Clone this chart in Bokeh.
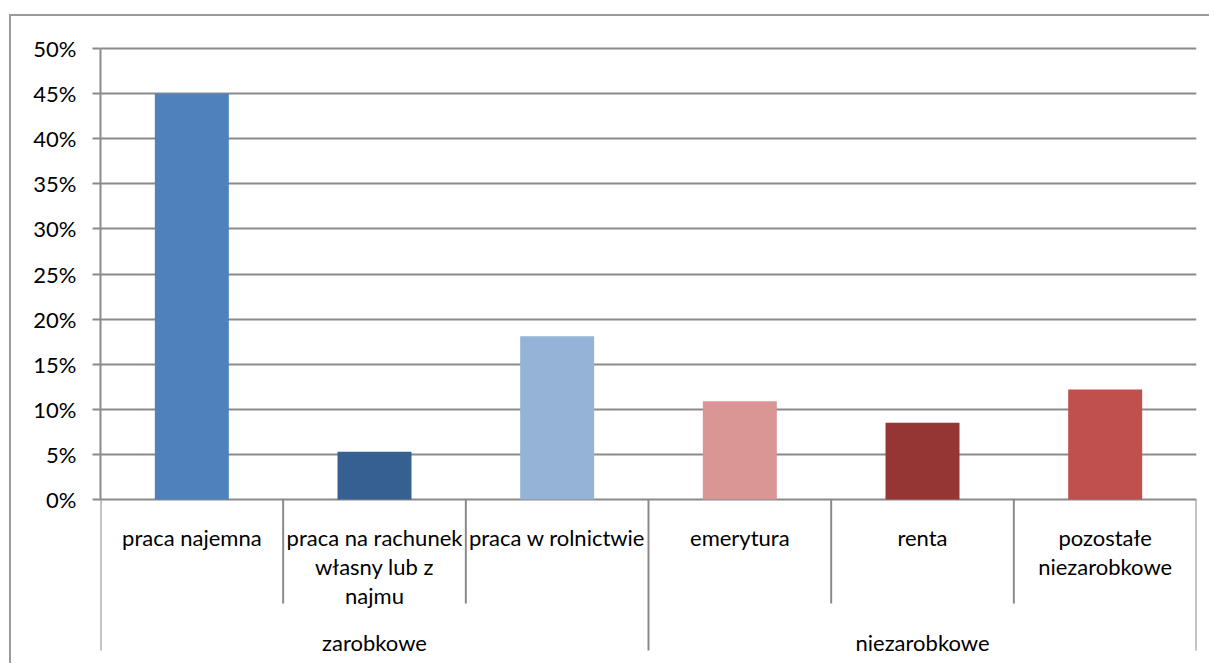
from bokeh.plotting import figure
from bokeh.models import ColumnDataSource, Range1d, FixedTicker, PrintfTickFormatter
from bokeh.core.properties import value
from bokeh.embed import file_html
from bokeh.resources import INLINE

# ---- data ----
categories = ["praca najemna", "praca na rachunek\nwłasny lub z\nnajmu", "praca w rolnictwie",
              "emerytura", "renta", "pozostałe\nniezarobkowe"]
groups = ["zarobkowe", "niezarobkowe"]
group_sizes = [3, 3]
values = [45.0, 5.3, 18.1, 10.9, 8.5, 12.2]
colors = ["#4F81BD", "#376092", "#95B3D7", "#DA9694", "#963634", "#C0504D"]
y_ticks = [0, 5, 10, 15, 20, 25, 30, 35, 40, 45, 50]

FONT = "Lato"
GRID = "#8a8a8a"

n = len(categories)
px_per_unit = 9.02
y_start = -(166 / px_per_unit)
y_end = 50 + 8 / px_per_unit

p = figure(width=1200, height=649, output_backend="svg", toolbar_location=None,
           x_range=Range1d(0, n), y_range=Range1d(y_start, y_end),
           x_axis_type=None, min_border_left=89, min_border_right=15,
           min_border_top=24, min_border_bottom=0, tools="")
p.margin = (14, 0, 0, 9)
p.outline_line_color = None
p.background_fill_color = "white"
p.styles = {"border-left": "2px solid #9a9a9a", "border-top": "2px solid #9a9a9a"}

# y axis
ax = p.yaxis[0]
ax.ticker = FixedTicker(ticks=y_ticks)
ax.formatter = PrintfTickFormatter(format="%d%%")
ax.bounds = (0, max(y_ticks))
ax.axis_line_color = GRID
ax.axis_line_width = 2
ax.major_tick_line_color = GRID
ax.major_tick_line_width = 2
ax.major_tick_out = 8
ax.major_tick_in = 0
ax.minor_tick_line_color = None
ax.major_label_standoff = 16
ax.major_label_text_font = FONT
ax.major_label_text_font_size = "22px"
ax.major_label_text_color = "#000000"

p.ygrid.grid_line_color = GRID
p.ygrid.grid_line_width = 2
p.xgrid.grid_line_color = None

# bars
src = ColumnDataSource(dict(x=[i + 0.5 for i in range(n)], top=values, color=colors))
p.vbar(x="x", top="top", bottom=0, width=0.405, fill_color="color", line_color=None, source=src)

# category separators (short) and group separators (long)
short_y = -(104 / px_per_unit)
long_y = -(151 / px_per_unit)
group_bounds = [0]
for s in group_sizes:
    group_bounds.append(group_bounds[-1] + s)
sx, sy1 = [], []
for b in range(n + 1):
    sx.append(b)
    sy1.append(long_y if b in group_bounds else short_y)
p.segment(x0=sx, y0=[0] * len(sx), x1=sx, y1=sy1, line_color=GRID, line_width=2)

# category labels
line_step = 29 / px_per_unit
first_base = -(38 / px_per_unit)
tx, ty, tt = [], [], []
for i, lab in enumerate(categories):
    for j, line in enumerate(lab.split("\n")):
        tx.append(i + 0.5)
        ty.append(first_base - j * line_step)
        tt.append(line)
p.text(x=tx, y=ty, text=tt, text_align="center", text_baseline="alphabetic",
       text_font=value(FONT), text_font_size="22px", text_color="#000000")

# group labels
gx = []
for k in range(len(groups)):
    gx.append((group_bounds[k] + group_bounds[k + 1]) / 2)
gy = [-(143 / px_per_unit)] * len(groups)
p.text(x=gx, y=gy, text=groups, text_align="center", text_baseline="alphabetic",
       text_font=value(FONT), text_font_size="22px", text_color="#000000")

open("out.html", "w").write(file_html(p, INLINE))
